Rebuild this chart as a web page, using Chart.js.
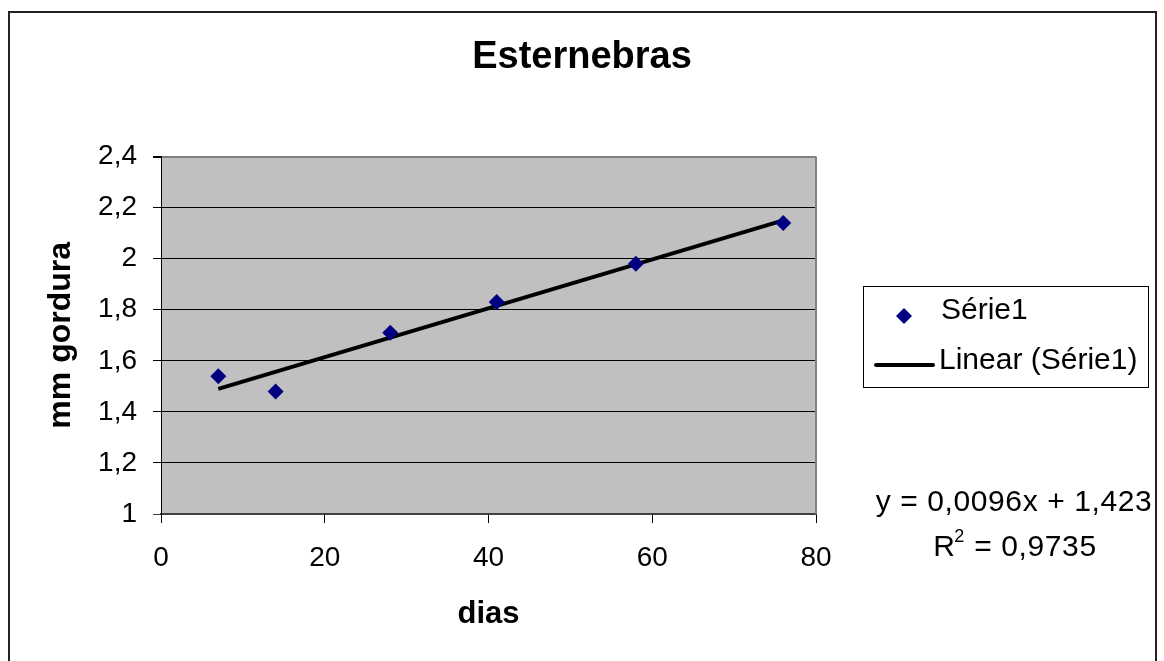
<!DOCTYPE html>
<html>
<head>
<meta charset="utf-8">
<script src="https://cdn.jsdelivr.net/npm/chart.js@4/dist/chart.umd.min.js"></script>
<style>
  body { margin: 0; background: #fff; }
  #wrap { width: 1164px; height: 661px; }
</style>
</head>
<body>
<div id="wrap"><canvas id="chart" width="1164" height="661"></canvas></div>
<script>
// values
const days = [7, 14, 28, 41, 58, 76];
const fat = [1.54, 1.48, 1.71, 1.83, 1.98, 2.14];
// trendline end points as drawn
const trendDays = [7, 76];
const trendFat = [1.49, 2.15];
const chartTitle = 'Esternebras';
const xTitle = 'dias';
const yTitle = 'mm gordura';
const seriesName = 'Série1';
const trendName = 'Linear (Série1)';
const equation = 'y = 0,0096x + 1,423';
const rSquared = ' = 0,9735';

const FONT = '"Liberation Sans", Arial, sans-serif';
Chart.defaults.font.family = FONT;
Chart.defaults.color = '#000';

const fmt = v => String(Number(v.toFixed(1))).replace('.', ',');

// plot background, outer frame, legend box and trendline label
const decor = {
    id: 'decor',
    beforeDraw(chart) {
        const { ctx, chartArea: a } = chart;
        ctx.save();
        ctx.fillStyle = '#fff';
        ctx.fillRect(0, 0, chart.width, chart.height);
        ctx.strokeStyle = '#222';
        ctx.lineWidth = 2;
        ctx.strokeRect(9, 12, 1147, 700);
        ctx.fillStyle = '#c0c0c0';
        ctx.fillRect(a.left, a.top, a.right - a.left, a.bottom - a.top);
        ctx.restore();
    },
    beforeDatasetsDraw(chart) {
        const { ctx, chartArea: a } = chart;
        ctx.save();
        ctx.strokeStyle = '#808080';
        ctx.lineWidth = 2;
        ctx.beginPath();
        ctx.moveTo(a.right, a.top);
        ctx.lineTo(a.right, a.bottom);
        ctx.stroke();
        ctx.restore();
    },
    afterDraw(chart) {
        const ctx = chart.ctx;
        const pts = chart.data.datasets[0];
        const line = chart.data.datasets[1];
        ctx.save();
        // legend
        ctx.fillStyle = '#fff';
        ctx.fillRect(863, 286, 285, 101);
        ctx.strokeStyle = '#000';
        ctx.lineWidth = 1;
        ctx.strokeRect(863.5, 286.5, 285, 101);
        ctx.fillStyle = pts.backgroundColor;
        ctx.beginPath();
        ctx.moveTo(896, 316); ctx.lineTo(904, 308); ctx.lineTo(912, 316); ctx.lineTo(904, 324);
        ctx.closePath();
        ctx.fill();
        ctx.strokeStyle = line.borderColor;
        ctx.lineWidth = 4;
        ctx.lineCap = 'round';
        ctx.beginPath();
        ctx.moveTo(876, 365);
        ctx.lineTo(933, 365);
        ctx.stroke();
        ctx.fillStyle = '#000';
        ctx.font = '30px ' + FONT;
        ctx.textBaseline = 'middle';
        ctx.textAlign = 'left';
        ctx.fillText(seriesName, 941, 311);
        ctx.fillText(trendName, 939, 361);
        // equation
        ctx.font = '30px ' + FONT;
        ctx.letterSpacing = '0.6px';
        ctx.textAlign = 'center';
        ctx.fillText(equation, 1014, 503);
        const w = ctx.measureText(rSquared).width;
        const rx = 1015 - (w + 21 + 11) / 2;
        ctx.textAlign = 'left';
        ctx.fillText('R', rx, 548);
        ctx.font = '18px ' + FONT;
        ctx.fillText('2', rx + 21, 537);
        ctx.font = '30px ' + FONT;
        ctx.fillText(rSquared, rx + 32, 548);
        ctx.restore();
    }
};

new Chart(document.getElementById('chart'), {
    type: 'scatter',
    data: {
        datasets: [
            {
                label: seriesName,
                data: days.map((d, i) => ({ x: d, y: fat[i] })),
                pointStyle: 'rectRot',
                pointRadius: 8,
                pointHoverRadius: 8,
                backgroundColor: '#000080',
                borderColor: '#000080',
                borderWidth: 0
            },
            {
                label: trendName,
                data: trendDays.map((d, i) => ({ x: d, y: trendFat[i] })),
                showLine: true,
                pointRadius: 0,
                borderColor: '#000',
                borderWidth: 4,
                borderCapStyle: 'butt'
            }
        ]
    },
    options: {
        responsive: false,
        animation: false,
        devicePixelRatio: 1,
        layout: { padding: 0 },
        plugins: {
            legend: { display: false },
            tooltip: { enabled: false },
            title: {
                display: true,
                text: chartTitle,
                font: { size: 38, weight: 'bold' },
                padding: { top: 35, bottom: 76 }
            }
        },
        scales: {
            x: {
                type: 'linear',
                min: 0,
                max: 80,
                ticks: { stepSize: 20, padding: 18, font: { size: 28 }, callback: v => fmt(v) },
                grid: { drawOnChartArea: false, drawTicks: true, tickLength: 9, tickColor: '#000' },
                border: { color: '#404040', width: 2 },
                title: { display: true, text: xTitle, font: { size: 31, weight: 'bold' }, padding: { top: 0, bottom: 28 } },
                afterFit(scale) { scale.height = 147; }
            },
            y: {
                min: 1,
                max: 2.4,
                ticks: { stepSize: 0.2, padding: 16, font: { size: 28 }, callback: v => fmt(v) },
                grid: {
                    color: c => c.tick.value >= 2.39 ? '#808080' : (c.tick.value <= 1.01 ? '#404040' : '#000'),
                    tickColor: c => c.tick.value <= 1.01 ? '#404040' : '#000',
                    lineWidth: c => c.tick.value >= 2.39 ? 2 : 1,
                    tickLength: 8
                },
                border: { color: '#000', width: 1 },
                title: { display: true, text: yTitle, font: { size: 32, weight: 'bold' }, padding: { top: 42, bottom: 0 } },
                afterFit(scale) { scale.width = 161; }
            },
            // empty space on the right that holds the legend and equation
            side: {
                type: 'linear',
                position: 'right',
                display: true,
                min: 1,
                max: 2.4,
                ticks: { display: false },
                grid: { display: false },
                border: { display: false },
                afterFit(scale) { scale.width = 348; }
            }
        }
    },
    plugins: [decor]
});
</script>
</body>
</html>
